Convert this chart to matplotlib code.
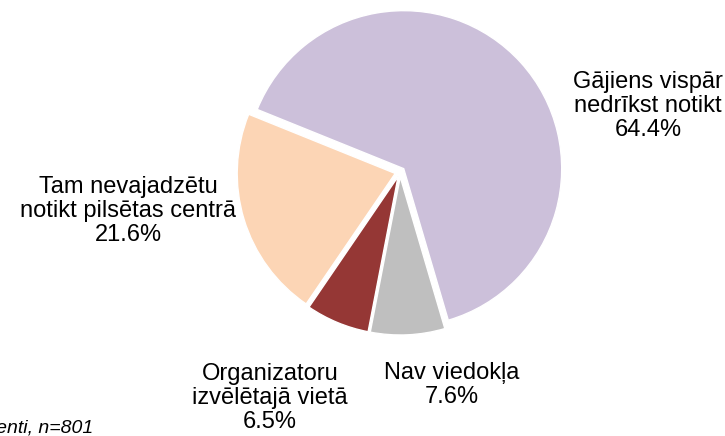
import matplotlib.pyplot as plt

plt.rcParams['font.family'] = ['Liberation Sans', 'DejaVu Sans']

# atbilžu kategorijas un to daļa (%)
labels = ['Gājiens vispār\nnedrīkst notikt', 'Nav viedokļa',
          'Organizatoru\nizvēlētajā vietā', 'Tam nevajadzētu\nnotikt pilsētas centrā']
shares = [64.4, 7.6, 6.5, 21.6]
colors = ['#CCC0DA', '#BFBFBF', '#953735', '#FCD5B5']

# uzrakstu centri (pikseļos, no apakšas)
label_pos = [(648, 330), (452, 51), (270, 38), (128, 225)]

fig = plt.figure(figsize=(7.25, 4.36), dpi=100)
ax = fig.add_axes([0, 0, 1, 1])

# explode šeit ir absolūtā nobīde (pikseļos)
ax.pie(shares, colors=colors, startangle=158, counterclock=False,
       radius=158, center=(400, 264), explode=[5] * 4,
       wedgeprops=dict(edgecolor='white', linewidth=1.0))

ax.set_xlim(0, 725)
ax.set_ylim(0, 436)
ax.set_aspect('equal')
ax.axis('off')

for lab, val, (x, y) in zip(labels, shares, label_pos):
    ax.text(x, y, f'{lab}\n{val:.1f}%', ha='center', va='center',
            fontsize=17, color='#000000', linespacing=1.1)

ax.text(93, 3, 'Visi respondenti, n=801', ha='right', va='baseline',
        fontsize=14, style='italic')

fig.savefig('out.png', dpi=100)
